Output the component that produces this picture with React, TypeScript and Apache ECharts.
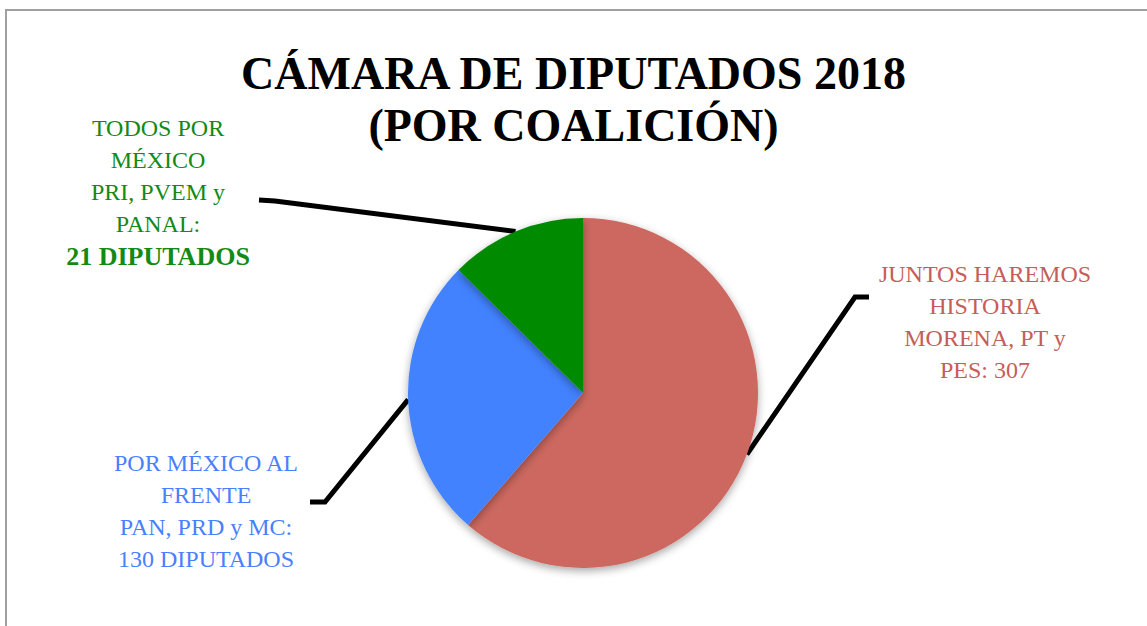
import React, { useEffect, useRef } from "react";
import * as echarts from "echarts";

const titleLines = ["CÁMARA DE DIPUTADOS 2018", "(POR COALICIÓN)"];
const coalitions = ["JUNTOS HAREMOS HISTORIA", "POR MÉXICO AL FRENTE", "TODOS POR MÉXICO"];
const seats = [307, 130, 63];
const sliceColors = ["#cc675f", "#4382ff", "#028a02"];
const textColors = ["#c65d58", "#4a7fff", "#138a13"];
const labelTexts = [
  "JUNTOS HAREMOS\nHISTORIA\nMORENA, PT y\nPES: 307",
  "POR MÉXICO AL\nFRENTE\nPAN, PRD y MC:\n130 DIPUTADOS",
  "TODOS POR\nMÉXICO\nPRI, PVEM y\nPANAL:\n{b|21 DIPUTADOS}",
];
// label block placement (center x, top y) and leader-line elbows
const labelPos = [
  [985, 258],
  [206, 447],
  [158, 112],
];
const elbows = [
  [[855, 297], [869, 297]],
  [[325, 502], [310, 502]],
  [[275, 201], [259, 200]],
];

export default function App() {
  const ref = useRef<HTMLDivElement>(null);
  useEffect(() => {
    document.body.style.margin = "0";
    const chart = echarts.init(ref.current!, undefined, { renderer: "svg" });
    chart.setOption({
      animation: false,
      backgroundColor: "#ffffff",
      title: {
        text: titleLines.join("\n"),
        left: "center",
        top: 42,
        textStyle: {
          fontFamily: "Liberation Serif",
          fontWeight: "bold",
          fontSize: 46,
          lineHeight: 52,
          color: "#000",
        },
      },
      graphic: [
        {
          type: "rect",
          silent: true,
          shape: { x: 6, y: 10, width: 1200, height: 700 },
          style: { fill: "none", stroke: "#a0a0a0", lineWidth: 2 },
        },
      ],
      series: [
        {
          type: "pie",
          center: [583, 393],
          radius: 175,
          startAngle: 90,
          clockwise: true,
          avoidLabelOverlap: false,
          data: coalitions.map((name, i) => ({
            name,
            value: seats[i],
            itemStyle: { color: sliceColors[i] },
            label: {
              color: textColors[i],
              formatter: labelTexts[i],
              rich: {
                b: {
                  fontFamily: "Liberation Serif",
                  fontWeight: "bold",
                  fontSize: 26,
                  lineHeight: 32,
                  color: textColors[i],
                },
              },
            },
          })),
          itemStyle: {
            shadowBlur: 8,
            shadowOffsetY: 3,
            shadowColor: "rgba(0,0,0,0.35)",
          },
          label: {
            show: true,
            position: "outside",
            fontFamily: "Liberation Serif",
            fontSize: 24,
            lineHeight: 32,
            align: "center",
          },
          labelLine: {
            show: true,
            length: 10,
            length2: 10,
            lineStyle: { color: "#000", width: 5 },
          },
          labelLayout: (params: any) => {
            const i = params.dataIndex;
            const pts = params.labelLinePoints;
            const anchor = pts && pts[0] ? pts[0] : elbows[i][0];
            return {
              x: labelPos[i][0],
              y: labelPos[i][1],
              align: "center",
              verticalAlign: "top",
              labelLinePoints: [anchor, elbows[i][0], elbows[i][1]],
            };
          },
          emphasis: { disabled: true },
        },
      ],
    });
    return () => chart.dispose();
  }, []);
  return <div ref={ref} style={{ width: 1147, height: 626 }} />;
}
